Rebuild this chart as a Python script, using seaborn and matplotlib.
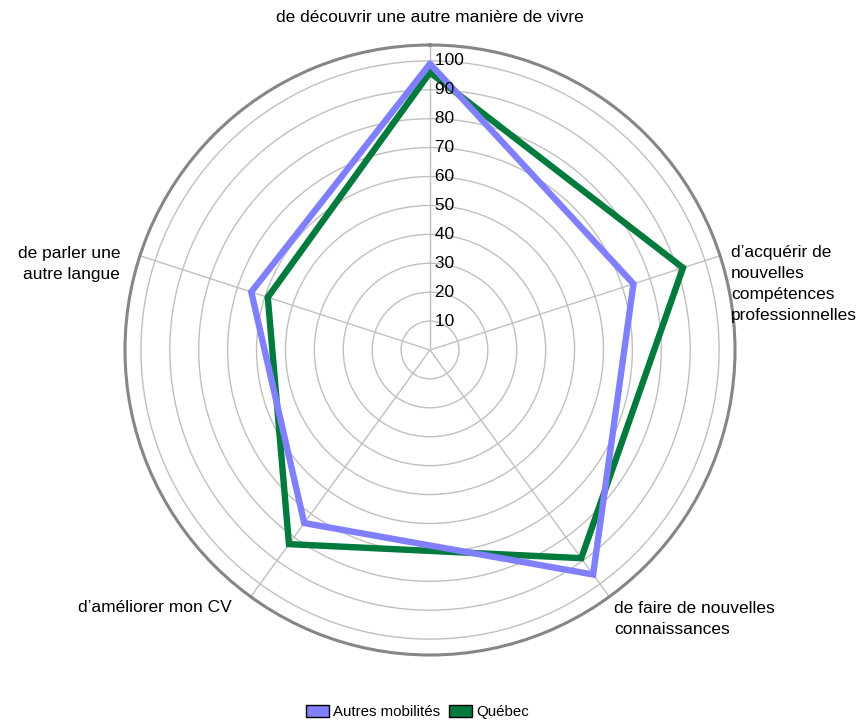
import numpy as np
import pandas as pd
import matplotlib
matplotlib.use("Agg")
import matplotlib.pyplot as plt
from matplotlib.patches import Patch
import seaborn as sns

sns.set_theme(style="white")
plt.rcParams["font.family"] = ["Liberation Sans", "DejaVu Sans"]
plt.rcParams["text.color"] = "black"

categories = [
    "de découvrir une autre manière de vivre",
    "d\u2019acquérir de\nnouvelles\ncompétences\nprofessionnelles",
    "de faire de nouvelles\nconnaissances",
    "d\u2019améliorer mon CV",
    "de parler une\nautre langue",
]
autres = [99, 74, 96, 74, 65]
quebec = [96, 92, 89, 83, 59]
series_names = ["Autres mobilités", "Québec"]
series_colors = ["#8080FF", "#007A3D"]
radial_ticks = [10, 20, 30, 40, 50, 60, 70, 80, 90, 100]

n = len(categories)
angles = np.linspace(0, 2 * np.pi, n, endpoint=False)
closed_angles = np.append(angles, 2 * np.pi)

rows = []
for name, vals in zip(series_names, [autres, quebec]):
    closed_vals = list(vals) + [vals[0]]
    for i, (t, v) in enumerate(zip(closed_angles, closed_vals)):
        rows.append({"serie": name, "theta": t, "valeur": v, "ordre": i})
df = pd.DataFrame(rows)

W, H = 861, 720
fig = plt.figure(figsize=(W / 100, H / 100), dpi=100)
cx, cy, R = 430, 350, 305
ax = fig.add_axes([(cx - R) / W, (H - cy - R) / H, 2 * R / W, 2 * R / H],
                  projection="polar")
ax.set_theta_zero_location("N")
ax.set_theta_direction(-1)
ax.set_ylim(0, 105.5)

# light circular grid and spokes
ax.set_yticks(radial_ticks)
ax.set_yticklabels([])
ax.set_xticks(angles)
ax.set_xticklabels([])
ax.grid(True, color="#C0C0C0", linewidth=1.0)
ax.spines["polar"].set_color("#868686")
ax.spines["polar"].set_linewidth(2.2)
ax.set_facecolor("white")

# Québec underneath, then the other series on top
for name, col in [("Québec", series_colors[1]), ("Autres mobilités", series_colors[0])]:
    sub = df[df["serie"] == name].sort_values("ordre")
    sns.lineplot(data=sub, x="theta", y="valeur", sort=False, estimator=None,
                 ax=ax, color=col, linewidth=4.6, legend=False)
    ax.lines[-1].set_solid_joinstyle("miter")
ax.set_xlabel("")
ax.set_ylabel("")

# radial value labels along the top spoke
for v in radial_ticks:
    ax.text(0, v, f" {v}", ha="left", va="center", fontsize=12.5, color="black")

# category labels around the chart
label_pos = [
    (430, 17, "center", "center"),
    (731, 245, "left", "top"),
    (614, 601, "left", "top"),
    (232, 607, "right", "center"),
    (120, 246, "right", "top"),
]
for text, (x, y, ha, va) in zip(categories, label_pos):
    fig.text(x / W, 1 - y / H, text, ha=ha, va=va, fontsize=12.5,
             linespacing=1.5, multialignment=ha if ha != "center" else "center")

handles = [Patch(facecolor=c, edgecolor="black", linewidth=1.0) for c in series_colors]
fig.legend(handles, series_names, loc="center", bbox_to_anchor=(0.485, 1 - 712 / H),
           ncol=2, frameon=False, fontsize=10.8, handlelength=1.5, handleheight=0.9,
           handletextpad=0.3, columnspacing=0.6)

fig.savefig("out.png", dpi=100)
